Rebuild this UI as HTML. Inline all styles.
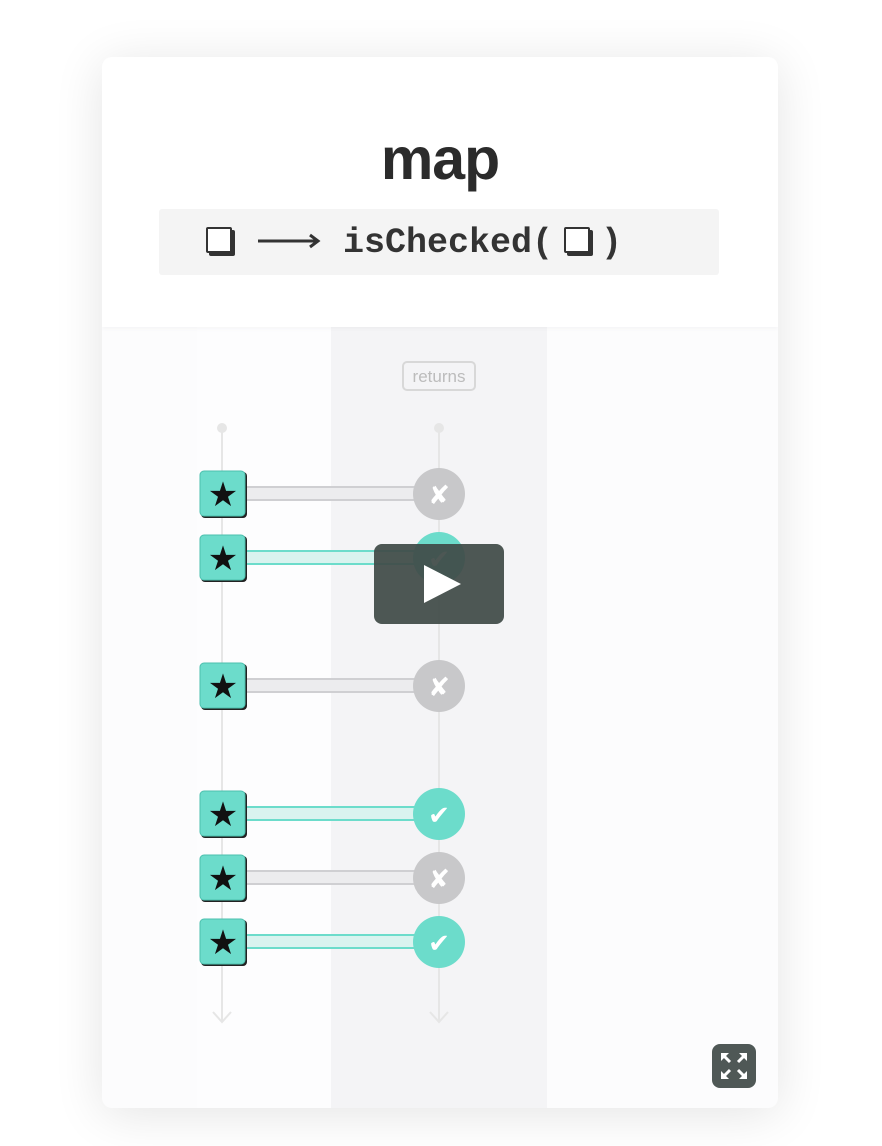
<!DOCTYPE html>
<html><head><style>
html,body{margin:0;padding:0;background:#fff;}
body{width:882px;height:1146px;position:relative;overflow:hidden;font-family:"Liberation Sans",sans-serif;}
.card{position:absolute;left:102px;top:57px;width:676px;height:1051px;border-radius:10px;background:#fcfcfd;box-shadow:0 6px 50px rgba(0,0,0,0.11);overflow:hidden;}
.top{position:absolute;left:0;top:0;width:676px;height:270px;background:#fff;box-shadow:0 2px 4px rgba(0,0,0,0.03);}
.title{position:absolute;left:0;width:676px;top:69px;text-align:center;font-weight:bold;font-size:59px;color:#2b2b2b;line-height:66px;letter-spacing:-1px;}
.code{position:absolute;left:57px;top:152px;width:560px;height:66px;background:#f4f4f4;border-radius:3px;}
.sq{position:absolute;width:22px;height:22px;border:2.5px solid #333;border-radius:2px;box-shadow:3px 3px 0 #333;background:#fff;box-sizing:border-box;}
.ct{position:absolute;top:12px;font-family:"Liberation Mono",monospace;font-weight:bold;font-size:35px;color:#333;line-height:44px;}
.col{position:absolute;top:270px;height:781px;}
</style></head><body>
<div class="card">
  <div class="col" style="left:95px;width:134px;background:#fdfdfe"></div>
  <div class="col" style="left:229px;width:216px;background:#f4f4f6"></div>
  <div class="top">
    <div class="title">map</div>
    <div class="code">
      <div class="sq" style="left:47px;top:18px;width:26px;height:26px"></div>
      <svg style="position:absolute;left:99px;top:24px" width="64" height="16"><line x1="0" y1="8" x2="60" y2="8" stroke="#333" stroke-width="3"/><path d="M52 2 L60 8 L52 14" fill="none" stroke="#333" stroke-width="3"/></svg>
      <div class="ct" style="left:184px">isChecked(</div>
      <div class="sq" style="left:405px;top:18px;width:26px;height:26px"></div>
      <div class="ct" style="left:442px">)</div>
    </div>
  </div>
</div>
<svg style="position:absolute;left:0;top:0" width="882" height="1146">
  <rect x="403" y="362" width="72" height="28" rx="4" fill="none" stroke="#d8d8d8" stroke-width="2"/>
  <text x="439" y="382" text-anchor="middle" font-family="Liberation Sans" font-size="17" fill="#bcbcbc">returns</text>
  <g stroke="#e6e6e6" stroke-width="2" fill="none">
    <line x1="222" y1="428" x2="222" y2="1022"/><line x1="439" y1="428" x2="439" y2="1022"/>
    <path d="M213 1012 L222 1022 L231 1012"/><path d="M430 1012 L439 1022 L448 1012"/>
  </g>
  <circle cx="222" cy="428" r="5" fill="#e6e6e6"/><circle cx="439" cy="428" r="5" fill="#e6e6e6"/>
  <defs>
    <g id="st"><rect x="-22" y="-22" width="46" height="46" rx="4" fill="#222"/><rect x="-23" y="-23" width="45" height="45" rx="4" fill="#6cdccb" stroke="#4cc0ae" stroke-width="1"/>
      <text x="0" y="12" text-anchor="middle" font-family="DejaVu Sans" font-size="34" fill="#111">★</text></g>
    <g id="no"><rect x="-193" y="-7" width="170" height="13" fill="#ececee" stroke="#cfcfd2" stroke-width="2"/><circle cx="0" cy="0" r="26" fill="#c8c8ca"/><text x="0" y="10" text-anchor="middle" font-family="DejaVu Sans" font-weight="bold" font-size="26" fill="#fff">✘</text></g>
    <g id="ok"><rect x="-193" y="-7" width="170" height="13" fill="#d9f3ef" stroke="#6cdccb" stroke-width="2"/><circle cx="0" cy="0" r="26" fill="#6cdccb"/><text x="0" y="10" text-anchor="middle" font-family="DejaVu Sans" font-weight="bold" font-size="26" fill="#fff">✔</text></g>
  </defs>
  <use href="#no" x="439" y="494"/><use href="#st" x="223" y="494"/>
  <use href="#ok" x="439" y="558"/><use href="#st" x="223" y="558"/>
  <use href="#no" x="439" y="686"/><use href="#st" x="223" y="686"/>
  <use href="#ok" x="439" y="814"/><use href="#st" x="223" y="814"/>
  <use href="#no" x="439" y="878"/><use href="#st" x="223" y="878"/>
  <use href="#ok" x="439" y="942"/><use href="#st" x="223" y="942"/>
  <rect x="374" y="544" width="130" height="80" rx="8" fill="#3f4a47" fill-opacity="0.93"/>
  <path d="M424 565 L461 584 L424 603 Z" fill="#fff"/>
  <rect x="712" y="1044" width="44" height="44" rx="8" fill="#4f5856"/>
  <g stroke="#fff" stroke-width="3" fill="#fff">
    <line x1="724" y1="1056" x2="730" y2="1062"/><line x1="744" y1="1056" x2="738" y2="1062"/>
    <line x1="724" y1="1076" x2="730" y2="1070"/><line x1="744" y1="1076" x2="738" y2="1070"/>
  </g>
  <g fill="#fff" stroke="none">
    <path d="M721 1053 L729 1053 L721 1061Z"/><path d="M747 1053 L739 1053 L747 1061Z"/>
    <path d="M721 1079 L729 1079 L721 1071Z"/><path d="M747 1079 L739 1079 L747 1071Z"/>
  </g>
</svg>
</body></html>
